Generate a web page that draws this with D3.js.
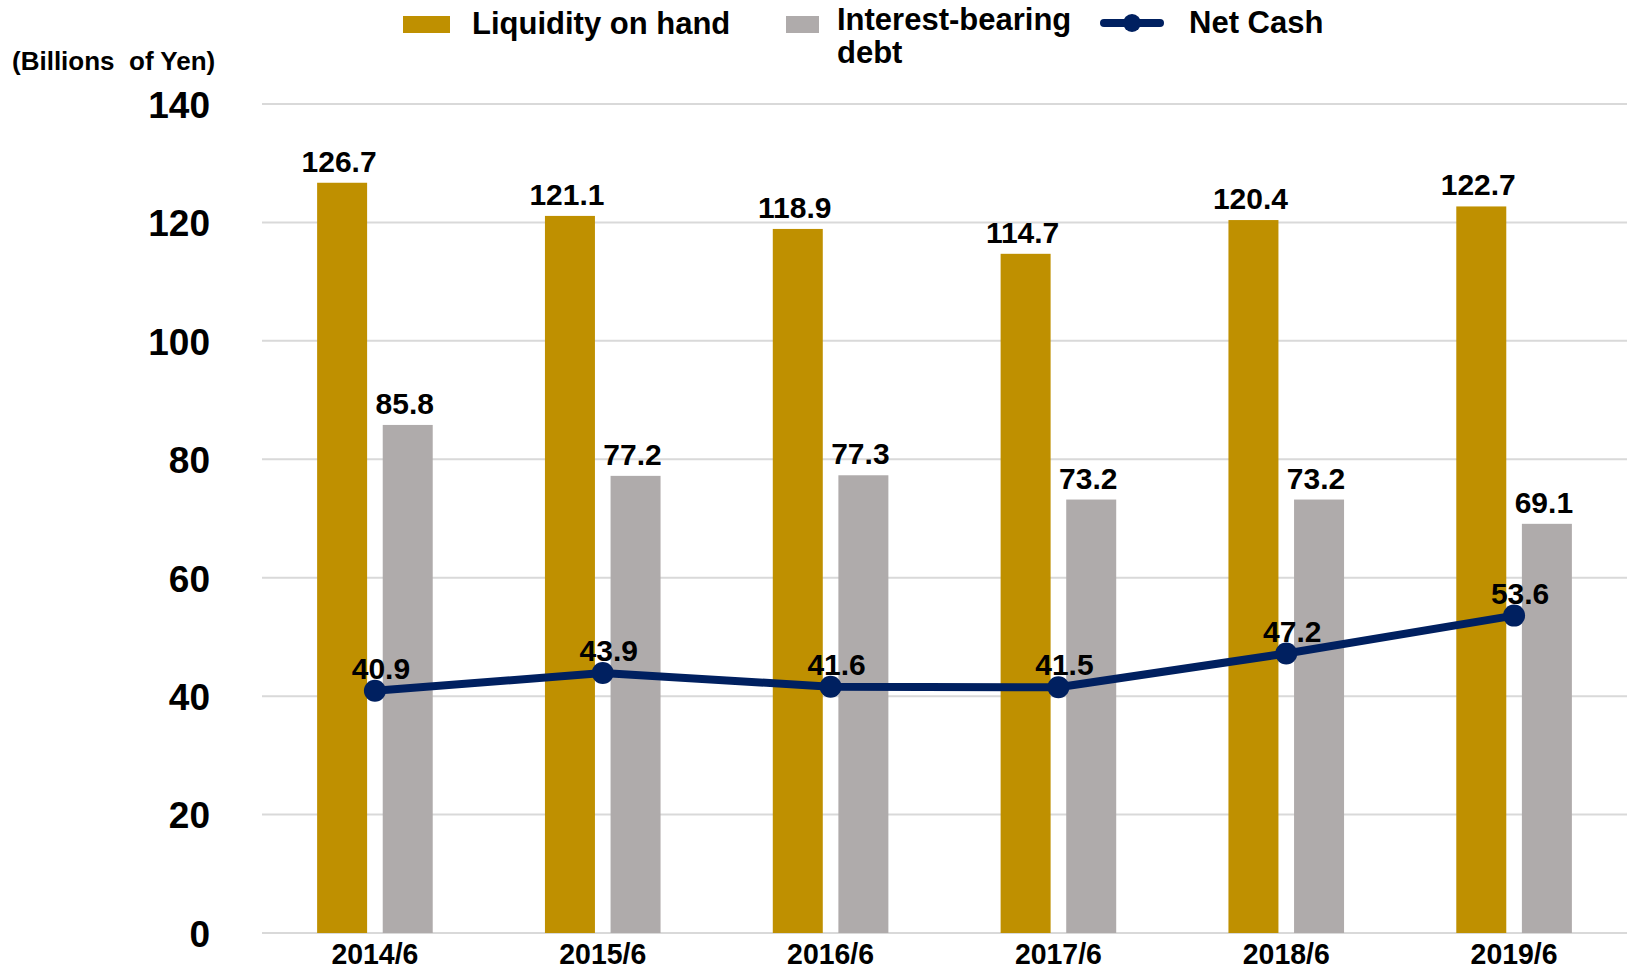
<!DOCTYPE html>
<html>
<head>
<meta charset="utf-8">
<script src="https://cdn.jsdelivr.net/npm/d3@7"></script>
<style>
  html, body { margin: 0; padding: 0; background: #ffffff; }
  svg { display: block; }
  text { font-family: "Liberation Sans", Arial, Helvetica, sans-serif; font-weight: bold; fill: #000; }
</style>
</head>
<body>
<svg id="chart" width="1627" height="971"></svg>
<script>
// Fiscal period labels (June year-end)
const periods = ["2014/6", "2015/6", "2016/6", "2017/6", "2018/6", "2019/6"];
// Billions of yen
const liquidity = [126.7, 121.1, 118.9, 114.7, 120.4, 122.7];
const debt = [85.8, 77.2, 77.3, 73.2, 73.2, 69.1];
const netCash = [40.9, 43.9, 41.6, 41.5, 47.2, 53.6];
const yTicks = [0, 20, 40, 60, 80, 100, 120, 140];

const seriesNames = ["Liquidity on hand", "Interest-bearing debt", "Net Cash"];
const colors = { liq: "#BF9000", debt: "#AFABAB", net: "#002060" };

const svg = d3.select("#chart");

const y = d3.scaleLinear().domain([0, 140]).range([933, 104]);
const x = d3.scaleBand().domain(periods).range([261, 1628]).paddingInner(0).paddingOuter(0);
const xc = d => x(d) + x.bandwidth() / 2;
const x1 = d3.scaleBand().domain(["liq", "debt"]).range([-57.8, 57.8]).paddingInner(0.238).paddingOuter(0);

// Horizontal gridlines
svg.append("g")
  .selectAll("line")
  .data(yTicks)
  .join("line")
  .attr("x1", 262).attr("x2", 1627)
  .attr("y1", d => y(d)).attr("y2", d => y(d))
  .attr("stroke", "#d9d9d9")
  .attr("stroke-width", 2);

// Y axis labels
const yAxis = d3.axisLeft(y).tickValues(yTicks).tickSize(0).tickPadding(0).tickFormat(d3.format("d"));
const yg = svg.append("g").attr("transform", "translate(210,0)").call(yAxis);
yg.select(".domain").remove();
yg.selectAll("text")
  .attr("font-size", 37)
  .attr("font-family", "'Liberation Sans', Arial, sans-serif")
  .attr("font-weight", "bold")
  .attr("fill", "#000")
  .attr("dy", "0.36em");

// Unit label
svg.append("text")
  .attr("x", 12).attr("y", 70)
  .attr("font-size", 26)
  .style("white-space", "pre")
  .text("(Billions  of Yen)");

// Bars
const barData = [];
periods.forEach((p, i) => {
  barData.push({ p, key: "liq", v: liquidity[i] });
  barData.push({ p, key: "debt", v: debt[i] });
});

svg.append("g")
  .selectAll("rect")
  .data(barData)
  .join("rect")
  .attr("x", d => xc(d.p) + x1(d.key))
  .attr("width", x1.bandwidth())
  .attr("y", d => y(d.v))
  .attr("height", d => y(0) - y(d.v))
  .attr("fill", d => colors[d.key]);

// Bar value labels
svg.append("g")
  .selectAll("text")
  .data(barData)
  .join("text")
  .attr("x", d => xc(d.p) + x1(d.key) + x1.bandwidth() / 2 - 3)
  .attr("y", d => y(d.v) - 11)
  .attr("text-anchor", "middle")
  .attr("font-size", 30)
  .text(d => d.v.toFixed(1));

// X axis labels (narrow bold)
const xAxis = d3.axisBottom(x).tickSize(0).tickPadding(0);
const xg = svg.append("g").call(xAxis);
xg.select(".domain").remove();
xg.selectAll(".tick text")
  .attr("y", 964)
  .attr("dy", 0)
  .attr("font-size", 30)
  .attr("font-family", "'Liberation Sans', Arial, sans-serif")
  .attr("font-weight", "bold")
  .attr("fill", "#000")
  .attr("textLength", 87)
  .attr("lengthAdjust", "spacingAndGlyphs");

// Net cash line
const lineData = periods.map((p, i) => ({ p, v: netCash[i] }));
const line = d3.line().x(d => xc(d.p)).y(d => y(d.v));
svg.append("path")
  .datum(lineData)
  .attr("d", line)
  .attr("fill", "none")
  .attr("stroke", colors.net)
  .attr("stroke-width", 8)
  .attr("stroke-linejoin", "round")
  .attr("stroke-linecap", "round");

svg.append("g")
  .selectAll("circle")
  .data(lineData)
  .join("circle")
  .attr("cx", d => xc(d.p))
  .attr("cy", d => y(d.v))
  .attr("r", 11)
  .attr("fill", colors.net);

svg.append("g")
  .selectAll("text")
  .data(lineData)
  .join("text")
  .attr("x", d => xc(d.p) + 6)
  .attr("y", d => y(d.v) - 12)
  .attr("text-anchor", "middle")
  .attr("font-size", 30)
  .text(d => d.v.toFixed(1));

// Legend
const lg = svg.append("g");
lg.append("rect").attr("x", 403).attr("y", 16).attr("width", 47).attr("height", 17).attr("fill", colors.liq);
lg.append("text").attr("x", 472).attr("y", 34).attr("font-size", 31).text(seriesNames[0]);

lg.append("rect").attr("x", 786).attr("y", 16).attr("width", 33).attr("height", 17).attr("fill", colors.debt);
lg.append("text").attr("x", 837).attr("y", 30).attr("font-size", 31).text("Interest-bearing");
lg.append("text").attr("x", 837).attr("y", 63).attr("font-size", 31).text("debt");

lg.append("line").attr("x1", 1104).attr("x2", 1160).attr("y1", 23).attr("y2", 23)
  .attr("stroke", colors.net).attr("stroke-width", 8).attr("stroke-linecap", "round");
lg.append("circle").attr("cx", 1132).attr("cy", 23).attr("r", 9).attr("fill", colors.net);
lg.append("text").attr("x", 1189).attr("y", 33).attr("font-size", 31).text(seriesNames[2]);
</script>
</body>
</html>
